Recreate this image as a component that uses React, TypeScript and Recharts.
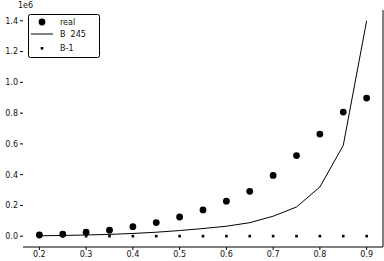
import React from "react";
import { ComposedChart, XAxis, YAxis, Line, Scatter, ReferenceLine } from "recharts";

const xValues = [0.2, 0.25, 0.3, 0.35, 0.4, 0.45, 0.5, 0.55, 0.6, 0.65, 0.7, 0.75, 0.8, 0.85, 0.9];
const realValues = [8000, 13000, 26000, 39000, 62000, 89000, 125000, 171000, 228000, 292000, 395000, 524000, 664000, 807000, 898000];
const b245Values = [3000, 5000, 8000, 12000, 18000, 26000, 37000, 50000, 65000, 88000, 130000, 190000, 320000, 590000, 1400000];
const b1Values = [500, 500, 500, 500, 500, 500, 500, 500, 500, 500, 500, 500, 500, 500, 500];
const xTicks = [0.2, 0.3, 0.4, 0.5, 0.6, 0.7, 0.8, 0.9];
const yTicks = [0, 200000, 400000, 600000, 800000, 1000000, 1200000, 1400000];
const seriesNames = ["real", "B  245", "B-1"];

const data = xValues.map((x, i) => ({ x, real: realValues[i], b245: b245Values[i], b1: b1Values[i] }));

const font = "DejaVu Sans, sans-serif";

const Dot = (props: any) => <circle cx={props.cx} cy={props.cy} r={3.4} fill="#000" />;
const Sq = (props: any) => <rect x={props.cx - 1.3} y={props.cy - 1.3} width={2.6} height={2.6} fill="#000" />;

const LegendBox = () => (
  <svg width={74} height={46} style={{ display: "block" }}>
    <rect x={0.5} y={0.5} width={71} height={43} rx={2} fill="#fff" stroke="#000" strokeWidth={1} />
    <circle cx={14} cy={8} r={3.4} fill="#000" />
    <text x={32} y={11} fontSize={8} fontFamily={font} fill="#111">{seriesNames[0]}</text>
    <line x1={3} y1={20} x2={25} y2={20} stroke="#000" strokeWidth={1} />
    <text x={32} y={23} fontSize={8} fontFamily={font} fill="#111" style={{ whiteSpace: "pre" }}>{seriesNames[1]}</text>
    <rect x={12.7} y={33} width={2.6} height={2.6} fill="#000" />
    <text x={32} y={37} fontSize={8} fontFamily={font} fill="#111">{seriesNames[2]}</text>
  </svg>
);

export default function App() {
  return (
    <div style={{ position: "absolute", left: 0, top: 0, width: 384, height: 261 }}>
      <ComposedChart width={384} height={261} data={data} margin={{ top: 10, right: 1, bottom: 0, left: 0 }}>
        <XAxis
          dataKey="x"
          type="number"
          domain={[0.165, 0.935]}
          ticks={xTicks}
          tickFormatter={(v: number) => v.toFixed(1)}
          height={14}
          tickSize={3}
          tickLine={{ stroke: "#000" }}
          axisLine={{ stroke: "#000" }}
          tick={{ fontSize: 8, fontFamily: font, fill: "#111" }}
          tickMargin={1}
          interval={0}
        />
        <YAxis
          type="number"
          domain={[-70000, 1470000]}
          ticks={yTicks}
          tickFormatter={(v: number) => (v / 1e6).toFixed(1)}
          width={23}
          tickSize={3}
          tickLine={{ stroke: "#000" }}
          axisLine={false}
          tick={{ fontSize: 8, fontFamily: font, fill: "#111" }}
          tickMargin={2}
          interval={0}
          allowDataOverflow
        />
        <ReferenceLine x={0.935} stroke="#000" strokeWidth={1} />
        <Scatter dataKey="real" shape={<Dot />} isAnimationActive={false} />
        <Line dataKey="b245" type="linear" stroke="#000" strokeWidth={1} dot={false} isAnimationActive={false} />
        <Scatter dataKey="b1" shape={<Sq />} isAnimationActive={false} />
        <text x={18} y={8} fontSize={8} fontFamily={font} fill="#111">1e6</text>
      </ComposedChart>
      <div style={{ position: "absolute", left: 28, top: 14 }}>
        <LegendBox />
      </div>
    </div>
  );
}
